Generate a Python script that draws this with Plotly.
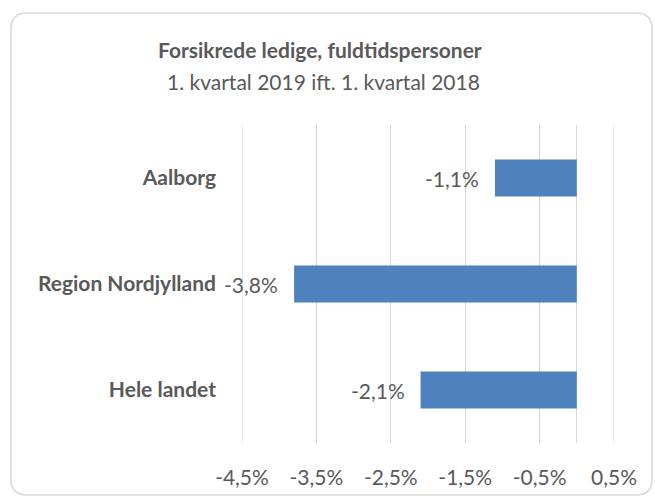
import plotly.graph_objects as go

categories = ["Aalborg", "Region Nordjylland", "Hele landet"]
values = [-1.1, -3.8, -2.1]
tick_vals = [-4.5, -3.5, -2.5, -1.5, -0.5, 0.5]
tick_text = ["-4,5%", "-3,5%", "-2,5%", "-1,5%", "-0,5%", "0,5%"]
labels = ["-1,1%", "-3,8%", "-2,1%"]

W, H = 655, 497
L, R, T, B = 242, 41, 125, 54
FONT = "Lato, 'Open Sans', sans-serif"
GRAY = "#595959"
GRID = "#D9D9D9"
FS = 21

fig = go.Figure()
fig.add_trace(go.Bar(
    y=categories, x=values, orientation="h",
    marker=dict(color="#4F81BD", line=dict(width=0)),
    width=0.35, hoverinfo="skip",
))

for c, v, t in zip(categories, values, labels):
    fig.add_annotation(x=v, y=c, text=t, xref="x", yref="y",
                       xanchor="right", yanchor="middle", showarrow=False,
                       xshift=-14, font=dict(size=FS, color=GRAY, family=FONT))

# edge gridlines (plotly omits gridlines at the range ends)
for tv in (tick_vals[0], tick_vals[-1]):
    fig.add_shape(type="line", x0=tv, x1=tv, y0=0, y1=1, xref="x", yref="paper",
                  line=dict(color=GRID, width=1), layer="below")

# rounded border in pixel-derived paper coords
pw, ph = W - L - R, H - T - B
def px(x):
    return (x - L) / pw
def py(y):
    return 1 - (y - T) / ph
x0, x1, y0, y1, r = 11, 652, 13, 495, 16
path = (f"M {px(x0)},{py(y0 + r)} "
        f"Q {px(x0)},{py(y0)} {px(x0 + r)},{py(y0)} "
        f"L {px(x1 - r)},{py(y0)} "
        f"Q {px(x1)},{py(y0)} {px(x1)},{py(y0 + r)} "
        f"L {px(x1)},{py(y1 - r)} "
        f"Q {px(x1)},{py(y1)} {px(x1 - r)},{py(y1)} "
        f"L {px(x0 + r)},{py(y1)} "
        f"Q {px(x0)},{py(y1)} {px(x0)},{py(y1 - r)} Z")
fig.add_shape(type="path", path=path, xref="paper", yref="paper",
              line=dict(color=GRID, width=1.5), layer="below")

fig.add_annotation(x=px(320), y=py(50), xref="paper", yref="paper",
                   text="<b>Forsikrede ledige, fuldtidspersoner</b>", showarrow=False,
                   xanchor="center", yanchor="middle",
                   font=dict(size=FS, color=GRAY, family=FONT))
fig.add_annotation(x=px(323), y=py(82), xref="paper", yref="paper",
                   text="1. kvartal 2019 ift. 1. kvartal 2018", showarrow=False,
                   xanchor="center", yanchor="middle",
                   font=dict(size=FS, color=GRAY, family=FONT))

fig.update_layout(
    width=W, height=H,
    margin=dict(l=L, r=R, t=T, b=B, autoexpand=False),
    paper_bgcolor="white", plot_bgcolor="white",
    showlegend=False,
    separators=",.",
    font=dict(family=FONT, color=GRAY, size=FS),
)
fig.update_xaxes(range=[-4.5, 0.5], tickvals=tick_vals, ticktext=tick_text,
                 showgrid=True, gridcolor=GRID, gridwidth=1,
                 zeroline=True, zerolinecolor=GRID, zerolinewidth=1,
                 showline=False, ticks="", ticklabelstandoff=20,
                 tickfont=dict(size=FS, color=GRAY, family=FONT))
fig.update_yaxes(autorange="reversed", showgrid=False, zeroline=False,
                 showline=False, ticks="", ticklabelstandoff=25,
                 tickfont=dict(size=FS, color=GRAY, family=FONT),
                 tickprefix="<b>", ticksuffix="</b>")

fig.write_html("out.html", config={"displayModeBar": False},
               post_script="document.body.style.margin='0px';document.body.style.overflow='hidden';")
